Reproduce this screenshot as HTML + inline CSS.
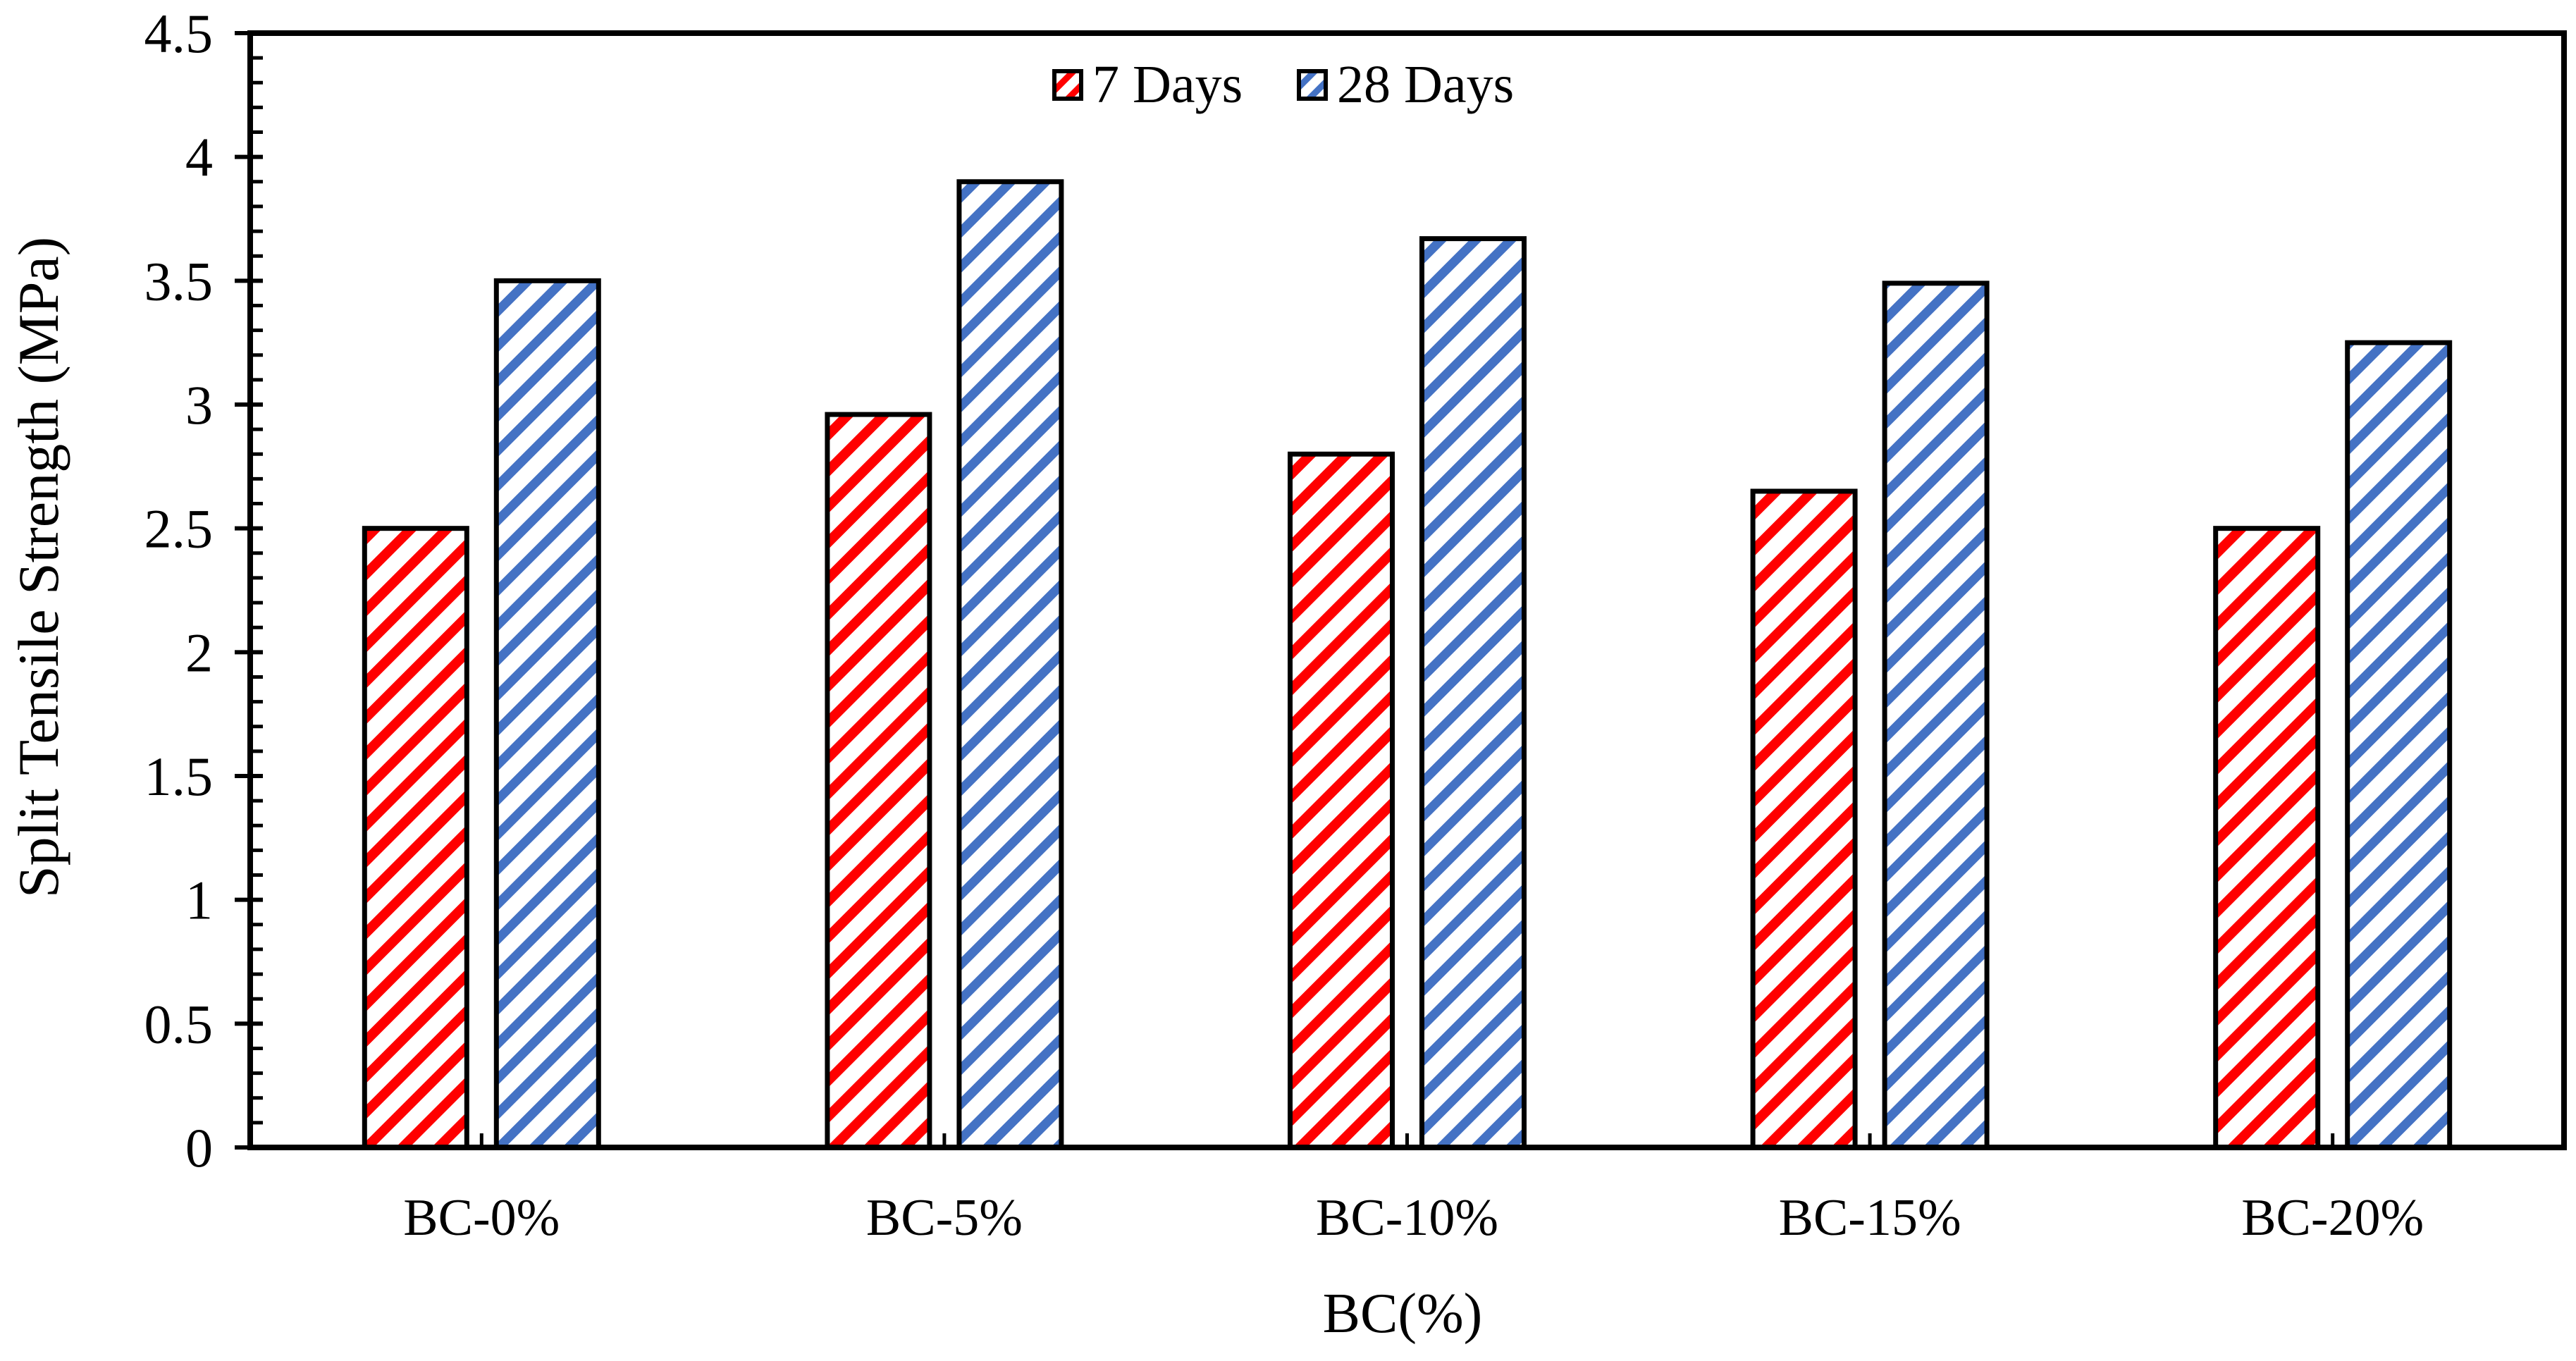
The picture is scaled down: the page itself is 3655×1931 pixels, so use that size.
<!DOCTYPE html>
<html><head><meta charset="utf-8"><style>
html,body{margin:0;padding:0;background:#fff;}
svg{display:block;font-family:"Liberation Serif",serif;}
</style></head><body>
<svg id="chart" width="3655" height="1931" viewBox="0 0 3655 1931">
<defs>
<pattern id="pRed" patternUnits="userSpaceOnUse" width="36" height="36" patternTransform="rotate(45)">
<rect width="36" height="36" fill="#fff"/><rect x="0" y="0" width="14" height="36" fill="#ff0000"/></pattern>
<pattern id="pBlue" patternUnits="userSpaceOnUse" width="35" height="35" patternTransform="rotate(45)">
<rect width="35" height="35" fill="#fff"/><rect x="0" y="0" width="13" height="35" fill="#4472c4"/></pattern>
<pattern id="pRedL" patternUnits="userSpaceOnUse" width="22" height="22" patternTransform="rotate(45)">
<rect width="22" height="22" fill="#fff"/><rect width="9" height="22" fill="#ff0000"/></pattern>
<pattern id="pBlueL" patternUnits="userSpaceOnUse" width="22" height="22" patternTransform="rotate(45)">
<rect width="22" height="22" fill="#fff"/><rect width="9" height="22" fill="#4472c4"/></pattern>
</defs>
<g id="bars"></g>
<g id="axes"></g>
<text x="1990" y="1890" font-size="80" text-anchor="middle">BC(%)</text>
<text transform="translate(82,805) rotate(-90)" font-size="82" text-anchor="middle">Split Tensile Strength (MPa)</text>
<g>
<rect x="1496" y="101" width="38" height="39" fill="url(#pRedL)" stroke="#000" stroke-width="6"/>
<text x="1550" y="145" font-size="76">7 Days</text>
<rect x="1843" y="101" width="38" height="39" fill="url(#pBlueL)" stroke="#000" stroke-width="6"/>
<text x="1897" y="145" font-size="76">28 Days</text>
</g>
</svg>
<script>
const categories = ["BC-0%","BC-5%","BC-10%","BC-15%","BC-20%"];
const days7 = [2.5, 2.96, 2.8, 2.65, 2.5];
const days28 = [3.5, 3.9, 3.67, 3.49, 3.25];
const yTicks = ["0","0.5","1","1.5","2","2.5","3","3.5","4","4.5"];

const NS = "http://www.w3.org/2000/svg";
const X0 = 355, X1 = 3638, Y0 = 1628, Y1 = 47, YMAX = 4.5;
const catW = (X1 - X0) / categories.length;
function yScale(v){ return Y0 - (v / YMAX) * (Y0 - Y1); }
function xCenter(i){ return X0 + catW * (i + 0.5); }
function mk(tag, attrs, parent){
  const e = document.createElementNS(NS, tag);
  for (const k in attrs) e.setAttribute(k, attrs[k]);
  parent.appendChild(e); return e;
}
const bars = document.getElementById('bars');
const axes = document.getElementById('axes');
const BW = 145;
categories.forEach((c, i) => {
  const cx = xCenter(i);
  const y7 = yScale(days7[i]);
  const r1 = mk('rect', {x: cx - 166, y: y7, width: BW, height: Y0 - y7, fill: 'url(#pRed)', stroke: '#000', 'stroke-width': 7}, bars);
  
  
  const y28 = yScale(days28[i]);
  const r2 = mk('rect', {x: cx + 21, y: y28, width: BW, height: Y0 - y28, fill: 'url(#pBlue)', stroke: '#000', 'stroke-width': 7}, bars);
  
  
  const t = mk('line', {x1: cx, x2: cx, y1: Y0, y2: Y0 - 20, stroke: '#000', 'stroke-width': 5}, axes);
  
  
  const lb = mk('text', {x: cx, y: 1752, 'font-size': 74, 'text-anchor': 'middle'}, axes);
  lb.textContent = c;
  
  
});
const fr = mk('rect', {x: X0, y: Y1, width: X1 - X0, height: Y0 - Y1, fill: 'none', stroke: '#000', 'stroke-width': 8}, axes);


for (let k = 0; k <= 45; k++) {
  const y = yScale(k * 0.1);
  if (k % 5 === 0) continue;
  const m = mk('line', {x1: X0, x2: X0 + 18, y1: y, y2: y, stroke: '#000', 'stroke-width': 5}, axes);
  
  
}
yTicks.forEach((t) => {
  const v = parseFloat(t);
  const y = yScale(v);
  const l = mk('line', {x1: X0 - 22, x2: X0 + 18, y1: y, y2: y, stroke: '#000', 'stroke-width': 6}, axes);
  
  
  const tx = mk('text', {x: 302, y: y + 27, 'font-size': 78, 'text-anchor': 'end'}, axes);
  tx.textContent = t;
  
  
});
</script>
</body></html>
